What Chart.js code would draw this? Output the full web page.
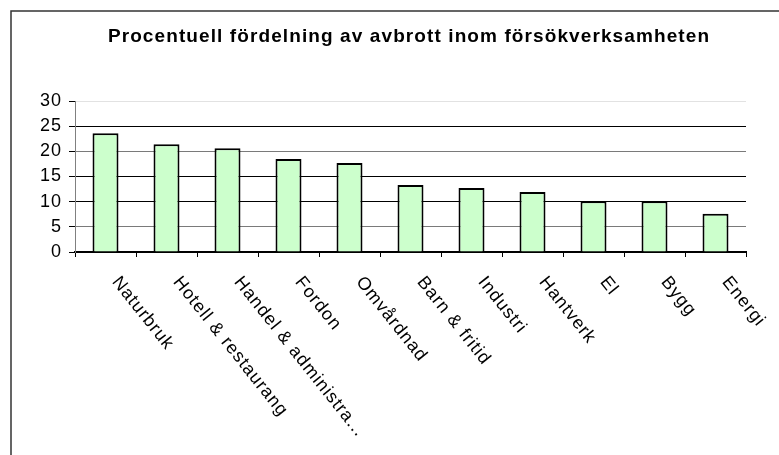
<!DOCTYPE html>
<html><head><meta charset="utf-8">
<script src="https://cdn.jsdelivr.net/npm/chart.js@4"></script>
<style>html,body{margin:0;padding:0;background:#fff;}canvas{display:block;}</style>
</head><body>
<canvas id="c" width="779" height="455"></canvas>
<script>
const titleText = 'Procentuell fördelning av avbrott inom försökverksamheten';
const categories = ['Naturbruk', 'Hotell & restaurang', 'Handel & administra...', 'Fordon', 'Omvårdnad', 'Barn & fritid', 'Industri', 'Hantverk', 'El', 'Bygg', 'Energi'];
const values = [23.6, 21.4, 20.6, 18.5, 17.7, 13.3, 12.7, 11.9, 10.1, 10.1, 7.6];
const yTicks = [0, 5, 10, 15, 20, 25, 30];

const FONT = '"Liberation Sans", Arial, sans-serif';
Chart.defaults.font.family = FONT;
Chart.defaults.color = '#000';

const decor = {
  id: 'decor',
  beforeDraw(chart) {
    const ctx = chart.ctx;
    ctx.save();
    ctx.strokeStyle = '#333';
    ctx.lineWidth = 1.5;
    ctx.beginPath();
    ctx.moveTo(11, 455); ctx.lineTo(11, 11); ctx.lineTo(779, 11);
    ctx.stroke();
    ctx.font = 'bold 19px ' + FONT;
    ctx.letterSpacing = '1.1px';
    ctx.fillStyle = '#000';
    ctx.textAlign = 'center';
    ctx.textBaseline = 'alphabetic';
    ctx.fillText(titleText, 409, 42);
    ctx.restore();
    ctx.letterSpacing = '1px';
  },
  afterDraw(chart) {
    const ctx = chart.ctx;
    const xs = chart.scales.x;
    ctx.save();
    ctx.font = '18px ' + FONT;
    ctx.letterSpacing = '1px';
    ctx.fillStyle = '#000';
    ctx.textAlign = 'left';
    ctx.textBaseline = 'alphabetic';
    categories.forEach((lab, i) => {
      const x = xs.getPixelForValue(i);
      ctx.save();
      ctx.translate(x + 6, xs.top + 30);
      ctx.rotate(51.5 * Math.PI / 180);
      ctx.fillText(lab, 0, 0);
      ctx.restore();
    });
    ctx.restore();
  }
};

new Chart(document.getElementById('c'), {
  type: 'bar',
  data: {
    labels: categories,
    datasets: [{
      data: values,
      backgroundColor: '#CCFFCC',
      borderColor: '#000',
      borderWidth: 2,
      borderSkipped: 'start',
      categoryPercentage: 1,
      barPercentage: 0.426
    }]
  },
  options: {
    responsive: false,
    devicePixelRatio: 1,
    animation: false,
    layout: { padding: { top: 101, left: 0, right: 33, bottom: 0 } },
    plugins: { legend: { display: false }, title: { display: false }, tooltip: { enabled: false } },
    scales: {
      x: {
        grid: { display: true, drawOnChartArea: false, drawTicks: true, tickLength: 5, tickColor: '#000', offset: true },
        border: { color: '#000', width: 2 },
        ticks: { display: false },
        afterFit(s) { s.height = 203; }
      },
      y: {
        min: 0, max: 30,
        afterBuildTicks(s) { s.ticks = yTicks.map(v => ({ value: v })); },
        grid: {
          color(c) {
            const v = c.tick ? c.tick.value : 0;
            if (v === 30) return '#e2e2e2';
            if (v === 20 || v === 5) return '#7a7a7a';
            return '#000';
          },
          tickColor: '#000', tickLength: 6, drawTicks: true
        },
        border: { color: '#808080', width: 1 },
        ticks: { font: { size: 18 }, color: '#000', padding: 7 },
        afterFit(s) { s.width = 75; }
      }
    }
  },
  plugins: [decor]
});
</script>
</body></html>
